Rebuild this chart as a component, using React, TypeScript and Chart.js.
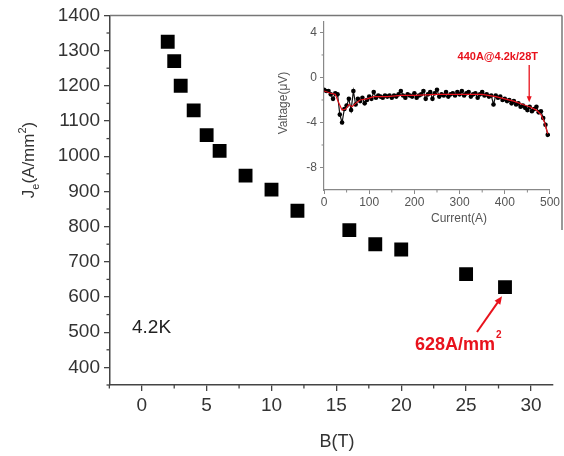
import React, { useEffect, useRef } from "react";
import { Chart, registerables } from "chart.js";
Chart.register(...registerables);

// ---- main chart data ----
const fieldB = [2, 2.5, 3, 4, 5, 6, 8, 10, 12, 16, 18, 20, 25, 28];
const currentDensity = [1325, 1270, 1200, 1130, 1060, 1015, 945, 905, 845, 790, 750, 735, 665, 628];
const xTicks = [0, 5, 10, 15, 20, 25, 30];
const xMinor = [-2.5, 2.5, 7.5, 12.5, 17.5, 22.5, 27.5];
const yTicks = [400, 500, 600, 700, 800, 900, 1000, 1100, 1200, 1300, 1400];
const yMinor = [350, 450, 550, 650, 750, 850, 950, 1050, 1150, 1250, 1350];

// ---- inset data ----
const insetCurrent = [
  0, 5, 10, 15, 20, 25, 30, 35, 40, 45, 50, 55, 60, 65, 70, 75, 80, 85, 90, 95,
  100, 105, 110, 115, 120, 125, 130, 135, 140, 145, 150, 155, 160, 165, 170, 175, 180, 185, 190, 195,
  200, 205, 210, 215, 220, 225, 230, 235, 240, 245, 250, 255, 260, 265, 270, 275, 280, 285, 290, 295,
  300, 305, 310, 315, 320, 325, 330, 335, 340, 345, 350, 355, 360, 365, 370, 375, 380, 385, 390, 395,
  400, 405, 410, 415, 420, 425, 430, 435, 440, 445, 450, 455, 460, 465, 470, 475, 480, 485, 490, 495,
];
const insetVoltage = [
  -1.1, -1.2, -1.2, -1.5, -1.9, -1.4, -1.5, -3.3, -4.0, -2.8, -2.5, -1.9, -2.9, -1.2, -2.4, -1.9, -2.1, -1.8, -2.3, -2.0,
  -1.7, -1.9, -1.3, -1.8, -1.6, -1.7, -1.8, -1.6, -1.7, -1.6, -1.8, -1.6, -1.7, -1.5, -1.2, -1.6, -1.8, -1.5, -1.6, -1.7,
  -1.4, -1.8, -1.6, -1.5, -1.2, -1.9, -1.5, -1.3, -1.9, -1.4, -1.1, -1.7, -1.5, -1.6, -1.3, -1.7, -1.5, -1.4, -1.6, -1.3,
  -1.5, -1.2, -1.6, -1.4, -1.3, -1.7, -1.5, -1.4, -1.8, -1.5, -1.3, -1.6, -1.5, -1.7, -1.6, -2.4, -1.6, -1.8, -1.7, -2.0,
  -1.9, -2.1, -2.0, -2.3, -2.1, -2.4, -2.3, -2.6, -2.5, -2.7, -2.9, -2.6, -3.0, -2.8, -2.6, -3.1, -3.0, -3.6, -4.2, -5.1,
];
const fitCurrent = [0, 15, 25, 32, 40, 48, 55, 62, 70, 80, 95, 110, 140, 170, 200, 250, 300, 350, 380, 400, 420, 440, 455, 470, 480, 488, 495];
const fitVoltage = [-1.2, -1.4, -1.5, -2.2, -2.9, -2.8, -2.4, -2.6, -2.3, -2.0, -1.9, -1.7, -1.7, -1.6, -1.6, -1.5, -1.5, -1.5, -1.7, -1.9, -2.1, -2.4, -2.6, -2.9, -3.3, -4.0, -5.0];
const insetXTicks = [0, 100, 200, 300, 400, 500];
const insetXMinor = [50, 150, 250, 350, 450];
const insetYTicks = [-8, -4, 0, 4];
const insetYMinor = [-6, -2, 2];

const FONT = "'Liberation Sans', Arial, sans-serif";
const RED = "#e8121c";

function seg(ctx: CanvasRenderingContext2D, x1: number, y1: number, x2: number, y2: number) {
  ctx.beginPath();
  ctx.moveTo(x1, y1);
  ctx.lineTo(x2, y2);
  ctx.stroke();
}

function arrowHead(ctx: CanvasRenderingContext2D, x1: number, y1: number, x2: number, y2: number, len: number, wid: number) {
  const ang = Math.atan2(y2 - y1, x2 - x1);
  ctx.beginPath();
  ctx.moveTo(x2, y2);
  ctx.lineTo(x2 - len * Math.cos(ang) + wid * Math.sin(ang), y2 - len * Math.sin(ang) - wid * Math.cos(ang));
  ctx.lineTo(x2 - len * Math.cos(ang) - wid * Math.sin(ang), y2 - len * Math.sin(ang) + wid * Math.cos(ang));
  ctx.closePath();
  ctx.fill();
}

const mainDecor = {
  id: "mainDecor",
  afterDraw(chart: any) {
    const { ctx, chartArea: a, scales } = chart;
    const x = scales.x;
    const y = scales.y;
    ctx.save();
    ctx.strokeStyle = "#444";
    ctx.lineWidth = 1.3;
    yMinor.forEach((v) => {
      const p = y.getPixelForValue(v);
      seg(ctx, a.left - 3.5, p, a.left, p);
    });
    xMinor.forEach((v) => {
      const p = x.getPixelForValue(v);
      seg(ctx, p, a.bottom, p, a.bottom + 3.5);
    });
    // frame
    ctx.strokeStyle = "#777";
    ctx.lineWidth = 1.5;
    seg(ctx, a.left, a.top, 562, a.top);
    seg(ctx, 562, a.top, 562, 230);

    // axis titles
    ctx.fillStyle = "#333";
    ctx.textBaseline = "alphabetic";
    ctx.font = `18px ${FONT}`;
    ctx.textAlign = "center";
    ctx.fillText("B(T)", 337, 447);

    // y title (rotated)
    ctx.save();
    ctx.translate(34, 160);
    ctx.rotate(-Math.PI / 2);
    const big = `17px ${FONT}`;
    const small = `11px ${FONT}`;
    ctx.textAlign = "left";
    ctx.font = big;
    const wJ = ctx.measureText("J").width;
    const wP = ctx.measureText("(A/mm").width;
    const wC = ctx.measureText(")").width;
    ctx.font = small;
    const wE = ctx.measureText("e").width;
    const w2 = ctx.measureText("2").width;
    let cx = -(wJ + wE + wP + w2 + wC) / 2;
    ctx.font = big;
    ctx.fillText("J", cx, 0);
    cx += wJ;
    ctx.font = small;
    ctx.fillText("e", cx, 5);
    cx += wE;
    ctx.font = big;
    ctx.fillText("(A/mm", cx, 0);
    cx += wP;
    ctx.font = small;
    ctx.fillText("2", cx, -8);
    cx += w2;
    ctx.font = big;
    ctx.fillText(")", cx, 0);
    ctx.restore();

    // 4.2K label
    ctx.fillStyle = "#222";
    ctx.font = `19px ${FONT}`;
    ctx.textAlign = "left";
    ctx.fillText("4.2K", 132, 333);

    // 628 annotation
    ctx.fillStyle = RED;
    ctx.font = `bold 18px ${FONT}`;
    ctx.fillText("628A/mm", 415, 350);
    const tw = ctx.measureText("628A/mm").width;
    ctx.font = `bold 10px ${FONT}`;
    ctx.fillText("2", 415 + tw + 1, 338);
    const px = x.getPixelForValue(28);
    const py = y.getPixelForValue(628);
    const hx = px - 3;
    const hy = py + 9;
    ctx.strokeStyle = RED;
    ctx.lineWidth = 2;
    seg(ctx, 477, 332, hx - 2, hy + 3);
    arrowHead(ctx, 477, 332, hx, hy, 8, 3.5);
    ctx.restore();
  },
};

const insetDecor = {
  id: "insetDecor",
  afterDraw(chart: any) {
    const { ctx, chartArea: a, scales } = chart;
    const x = scales.x;
    const y = scales.y;
    ctx.save();
    ctx.strokeStyle = "#888";
    ctx.lineWidth = 1;
    insetYMinor.forEach((v) => {
      const p = y.getPixelForValue(v);
      seg(ctx, a.left - 2.5, p, a.left, p);
    });
    insetXMinor.forEach((v) => {
      const p = x.getPixelForValue(v);
      seg(ctx, p, a.bottom, p, a.bottom + 2.5);
    });
    ctx.fillStyle = "#555";
    ctx.font = `12px ${FONT}`;
    ctx.textAlign = "center";
    ctx.textBaseline = "middle";
    ctx.fillText("Current(A)", 189, 208);
    ctx.save();
    ctx.translate(14, 92);
    ctx.rotate(-Math.PI / 2);
    ctx.fillText("Valtage(\u03bcV)", 0, 0);
    ctx.restore();

    // annotation
    ctx.fillStyle = RED;
    ctx.font = `bold 11px ${FONT}`;
    ctx.textAlign = "right";
    ctx.fillText("440A@4.2k/28T", 268, 46);
    const ax = x.getPixelForValue(454);
    const y1 = y.getPixelForValue(1.1);
    const y2 = y.getPixelForValue(-2.2);
    ctx.strokeStyle = RED;
    ctx.lineWidth = 1.3;
    seg(ctx, ax, y1, ax, y2 - 4);
    arrowHead(ctx, ax, y1, ax, y2, 6, 2.5);
    ctx.restore();
  },
};

export default function App() {
  const mainRef = useRef<HTMLCanvasElement>(null);
  const insetRef = useRef<HTMLCanvasElement>(null);

  useEffect(() => {
    const main = new Chart(mainRef.current as HTMLCanvasElement, {
      type: "scatter",
      data: {
        datasets: [
          {
            data: fieldB.map((b, i) => ({ x: b, y: currentDensity[i] })),
            pointStyle: "rect",
            pointRadius: 9.8,
            backgroundColor: "#000",
            borderColor: "#000",
            borderWidth: 0,
          },
        ],
      },
      options: {
        animation: false,
        responsive: false,
        devicePixelRatio: 1,
        layout: { padding: { top: 15, right: 11, left: 0, bottom: 0 } },
        plugins: { legend: { display: false }, tooltip: { enabled: false } },
        scales: {
          x: {
            type: "linear",
            min: -2.45,
            max: 31.7,
            afterBuildTicks: (s: any) => {
              s.ticks = xTicks.map((v) => ({ value: v }));
            },
            afterFit: (s: any) => {
              s.height = 71;
            },
            border: { display: true, color: "#444", width: 1.5 },
            grid: { drawOnChartArea: false, drawTicks: true, tickLength: 6, color: "#444", lineWidth: 1.3 },
            ticks: { color: "#333", font: { family: FONT, size: 19 }, padding: 3, maxRotation: 0, callback: (v: any) => String(v) },
          },
          y: {
            type: "linear",
            min: 350,
            max: 1400,
            afterBuildTicks: (s: any) => {
              s.ticks = yTicks.map((v) => ({ value: v }));
            },
            afterFit: (s: any) => {
              s.width = 110;
            },
            border: { display: true, color: "#444", width: 1.5 },
            grid: { drawOnChartArea: false, drawTicks: true, tickLength: 6, color: "#444", lineWidth: 1.3 },
            ticks: { color: "#333", font: { family: FONT, size: 19 }, padding: 4, callback: (v: any) => String(v) },
          },
        },
      },
      plugins: [mainDecor],
    } as any);

    const inset = new Chart(insetRef.current as HTMLCanvasElement, {
      type: "scatter",
      data: {
        datasets: [
          {
            data: fitCurrent.map((c, i) => ({ x: c, y: fitVoltage[i] })),
            showLine: true,
            borderColor: RED,
            borderWidth: 1.2,
            pointRadius: 0,
          },
          {
            data: insetCurrent.map((c, i) => ({ x: c, y: insetVoltage[i] })),
            showLine: true,
            borderColor: "#111",
            borderWidth: 1.2,
            pointRadius: 2.3,
            backgroundColor: "#000",
            pointBorderWidth: 0,
          },
        ],
      },
      options: {
        animation: false,
        responsive: false,
        devicePixelRatio: 1,
        layout: { padding: { top: 2, right: 9, left: 0, bottom: 0 } },
        plugins: { legend: { display: false }, tooltip: { enabled: false } },
        scales: {
          x: {
            type: "linear",
            min: 0,
            max: 500,
            afterBuildTicks: (s: any) => {
              s.ticks = insetXTicks.map((v) => ({ value: v }));
            },
            afterFit: (s: any) => {
              s.height = 37;
            },
            border: { display: true, color: "#888", width: 1.2 },
            grid: { drawOnChartArea: false, drawTicks: true, tickLength: 4, color: "#888" },
            ticks: { color: "#555", font: { family: FONT, size: 12 }, padding: 1, maxRotation: 0 },
          },
          y: {
            type: "linear",
            min: -10,
            max: 5,
            afterBuildTicks: (s: any) => {
              s.ticks = insetYTicks.map((v) => ({ value: v }));
            },
            afterFit: (s: any) => {
              s.width = 54;
            },
            border: { display: true, color: "#888", width: 1.2 },
            grid: { drawOnChartArea: false, drawTicks: true, tickLength: 4, color: "#888" },
            ticks: { color: "#555", font: { family: FONT, size: 12 }, padding: 3 },
          },
        },
      },
      plugins: [insetDecor],
    } as any);

    return () => {
      main.destroy();
      inset.destroy();
    };
  }, []);

  return (
    <div style={{ position: "absolute", left: 0, top: 0, width: 564, height: 456, background: "#fff" }}>
      <canvas ref={mainRef} width={564} height={456} style={{ position: "absolute", left: 0, top: 0 }} />
      <canvas ref={insetRef} width={291} height={216} style={{ position: "absolute", left: 270, top: 11 }} />
    </div>
  );
}
